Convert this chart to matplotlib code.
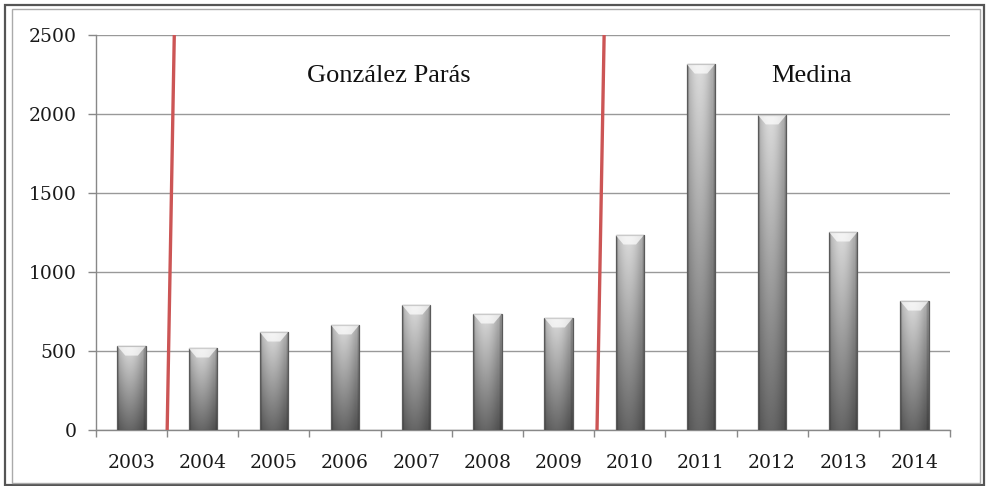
import numpy as np
import matplotlib
matplotlib.use("Agg")
import matplotlib.pyplot as plt
from matplotlib.patches import Rectangle, Polygon

years = ["2003", "2004", "2005", "2006", "2007", "2008", "2009",
         "2010", "2011", "2012", "2013", "2014"]
values = [531, 519, 620, 665, 791, 734, 709, 1234, 2316, 1994, 1253, 816]
yticks = [0, 500, 1000, 1500, 2000, 2500]
period_labels = ["González Parás", "Medina"]
# red divider lines: (x bottom, x top) in category units
dividers = [(0.50, 0.60), (6.54, 6.64)]

W, H = 989, 486
fig = plt.figure(figsize=(W / 100, H / 100), dpi=100)
ax = fig.add_axes([96 / W, 1 - 430 / H, (950 - 96) / W, (430 - 35) / H])

x = np.arange(len(years))
bw = 0.40
ymax = 2500
cap = 60

# gradient for bars
nu, nv = 60, 200
u = np.linspace(0, 1, nu)
t = np.linspace(0, 1, nv)
hprof = 0.80 + 0.20 * np.sin(np.pi * np.clip(u * 1.15, 0, 1))
hprof[-5:] *= 0.82
hprof[:4] *= 0.82

bars = ax.bar(x, values, width=bw, facecolor="none", edgecolor="#5a5a5a",
              linewidth=0.9, zorder=4)
for xi, val, b in zip(x, values, bars):
    vprof = 0.40 + 0.46 * t  # bottom->top
    img = np.outer(vprof[::-1], hprof)
    img = np.clip(img, 0, 1)
    im = ax.imshow(img, cmap="gray", vmin=0, vmax=1, aspect="auto",
                   extent=[xi - bw / 2, xi + bw / 2, 0, val],
                   interpolation="bilinear", zorder=3)
    im.set_clip_path(b)
    cap_poly = Polygon([[xi - bw / 2, val], [xi + bw / 2, val],
                        [xi + bw / 2 - bw * 0.28, val - cap],
                        [xi - bw / 2 + bw * 0.28, val - cap]],
                       closed=True, facecolor="white", alpha=0.7,
                       edgecolor="none", zorder=4)
    ax.add_patch(cap_poly)

ax.set_xlim(-0.5, len(years) - 0.5)
ax.set_ylim(0, ymax)
ax.set_yticks(yticks)
ax.set_yticklabels([str(v) for v in yticks], family="DejaVu Serif",
                   fontsize=13.5, color="#1a1a1a")
ax.set_xticks(x)
ax.set_xticklabels(years, family="DejaVu Serif", fontsize=13.5, color="#1a1a1a")
ax.set_xticks(np.arange(-0.5, len(years)), minor=True)
ax.tick_params(axis="x", which="major", length=0, pad=17)
ax.tick_params(axis="x", which="minor", length=5, color="#888888", width=1)
ax.tick_params(axis="y", which="major", length=6, color="#888888", width=1, pad=8)

ax.yaxis.grid(True, color="#999999", linewidth=1)
ax.set_axisbelow(True)
for s in ["top", "right"]:
    ax.spines[s].set_visible(False)
for s in ["left", "bottom"]:
    ax.spines[s].set_color("#888888")
    ax.spines[s].set_linewidth(1)

for (xb, xt) in dividers:
    ax.plot([xb, xt], [0, ymax], color="#cc5555", linewidth=2.4,
            zorder=6, clip_on=False, solid_capstyle="butt")

ax.text(3.62, 2240, period_labels[0], family="Liberation Serif", fontsize=19,
        ha="center", va="center", color="#111111")
ax.text(9.55, 2240, period_labels[1], family="Liberation Serif", fontsize=19,
        ha="center", va="center", color="#111111")

# frame around figure
fig.patches.append(Rectangle((4.5 / W, 1.5 / H), (984 - 4.5) / W, (481 - 1.5) / H,
                             transform=fig.transFigure, fill=False,
                             edgecolor="#555555", linewidth=1.6))
fig.patches.append(Rectangle((11.5 / W, 3.5 / H), (980 - 11.5) / W, (477 - 3.5) / H,
                             transform=fig.transFigure, fill=False,
                             edgecolor="#aaaaaa", linewidth=1.0))

fig.savefig("out.png", dpi=100)
